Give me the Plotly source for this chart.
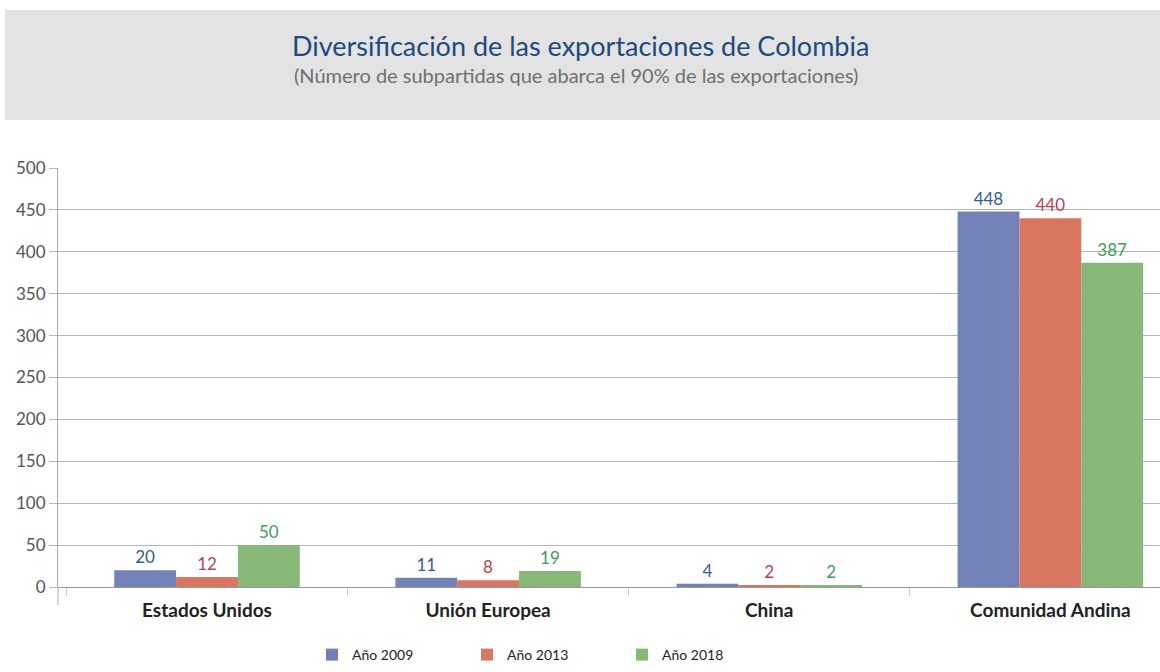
import plotly.graph_objects as go

categories = ["Estados Unidos", "Unión Europea", "China", "Comunidad Andina"]
series_names = ["Año 2009", "Año 2013", "Año 2018"]
values_2009 = [20, 11, 4, 448]
values_2013 = [12, 8, 2, 440]
values_2018 = [50, 19, 2, 387]
y_ticks = [0, 50, 100, 150, 200, 250, 300, 350, 400, 450, 500]

bar_colors = ["#7282b9", "#d97662", "#88b878"]
text_colors = ["#2f5e8e", "#b8414f", "#3f9b5c"]

W, H = 1160, 672
ML, MR, MT, MB = 58, 0, 168, 85
PW, PH = W - ML - MR, H - MT - MB


def px_x(x):
    return (x - ML) / PW


def px_y(y):
    return (H - MB - y) / PH


fig = go.Figure()
for name, vals, c, tc in zip(series_names, [values_2009, values_2013, values_2018], bar_colors, text_colors):
    fig.add_trace(go.Bar(
        x=categories, y=vals, name=name,
        marker=dict(color=c, line=dict(width=0)),
        text=[str(v) for v in vals], textposition="outside",
        textfont=dict(color=tc, size=17, family="Lato"),
        cliponaxis=False,
    ))

fig.update_layout(
    width=W, height=H,
    margin=dict(l=ML, r=MR, t=MT, b=MB, autoexpand=False),
    paper_bgcolor="white", plot_bgcolor="white",
    barmode="group", bargap=0.34, bargroupgap=0,
    font=dict(family="Lato", color="#333"),
    showlegend=True,
    legend=dict(orientation="h", x=px_x(312), xanchor="left", y=px_y(671), yanchor="bottom",
                font=dict(size=14, color="#222", family="Lato"),
                entrywidth=110, entrywidthmode="pixels",
                traceorder="normal"),
    shapes=[
        dict(type="rect", xref="paper", yref="paper",
             x0=px_x(5), x1=px_x(1160), y0=px_y(120), y1=px_y(10),
             fillcolor="#e3e3e3", line=dict(width=0), layer="below"),
        dict(type="line", xref="paper", yref="paper",
             x0=0, x1=0, y0=px_y(605), y1=0,
             line=dict(color="#aaa", width=1)),
    ],
    annotations=[
        dict(text="Diversificación de las exportaciones de Colombia", xref="paper", yref="paper",
             x=px_x(580), y=px_y(46), showarrow=False, xanchor="center", yanchor="middle",
             font=dict(size=27, color="#1e4a80", family="Lato")),
        dict(text="(Número de subpartidas que abarca el 90% de las exportaciones)", xref="paper", yref="paper",
             x=px_x(576), y=px_y(75), showarrow=False, xanchor="center", yanchor="middle",
             font=dict(size=20, color="#707070", family="Lato")),
    ],
)

fig.update_yaxes(range=[0, 500], tickvals=y_ticks, showgrid=True, gridcolor="#b5b5b5", gridwidth=1,
                 zeroline=True, zerolinecolor="#999", zerolinewidth=1,
                 showline=True, linecolor="#aaa", linewidth=1, automargin=False,
                 ticks="outside", ticklen=8, tickcolor="#b5b5b5",
                 tickfont=dict(size=17, color="#555", family="Lato"))
fig.update_xaxes(range=[-0.53, 3.39], showline=False, ticks="outside", tickson="boundaries",
                 ticklen=8, tickcolor="#ccc", automargin=False,
                 tickfont=dict(size=19, color="#222", family="Lato"), ticklabelstandoff=10,
                 tickvals=categories, ticktext=["<b>" + c + "</b>" for c in categories])

fig.write_html("out.html", config={"displayModeBar": False},
               post_script="document.body.style.margin='0';")
